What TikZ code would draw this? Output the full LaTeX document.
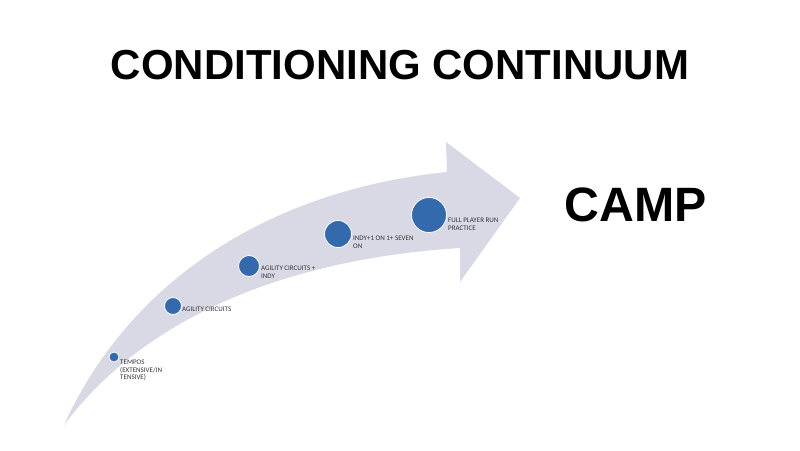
\documentclass[tikz,border=0pt]{standalone}
\usepackage{fontspec}
\setmainfont{Liberation Sans}
\newfontfamily\lblfont{Carlito}
\begin{document}
\begin{tikzpicture}[x=1pt,y=-1pt,
  dot/.style={circle,fill=blue!55!cyan!60!black!80,draw=white,line width=0.8pt,inner sep=0pt},
  lbl/.style={anchor=north west,font=\lblfont\fontsize{7}{7.5}\selectfont,text=black!80,align=left,inner sep=0pt}]
\useasboundingbox (0,0) rectangle (800,450);
\fill[white] (0,0) rectangle (800,450);
\node (title) at (400,65) {\resizebox{578pt}{!}{\textbf{CONDITIONING CONTINUUM}}};
\node (camp) at (636,205) {\resizebox{142pt}{!}{\textbf{CAMP}}};
\fill[blue!20!gray!25] (64,425) .. controls (130,280) and (270,190) .. (447,172)
  -- (446,142) -- (520,198) -- (460,282) -- (460,248)
  .. controls (300,258) and (150,310) .. cycle;
\node[dot,minimum size=10pt] (d1) at (114,357) {};
\node[dot,minimum size=17pt] (d2) at (173,306) {};
\node[dot,minimum size=21pt] (d3) at (249,266) {};
\node[dot,minimum size=27pt] (d4) at (338,234) {};
\node[dot,minimum size=35pt] (d5) at (429,215) {};
\node[lbl] (t1) at (120,360) {TEMPOS\\(EXTENSIVE/IN\\TENSIVE)};
\node[lbl] (t2) at (182,307) {AGILITY CIRCUITS};
\node[lbl] (t3) at (261,266) {AGILITY CIRCUITS +\\INDY};
\node[lbl] (t4) at (353,236) {INDY+1 ON 1+ SEVEN\\ON};
\node[lbl] (t5) at (448,218) {FULL PLAYER RUN\\PRACTICE};
\end{tikzpicture}
\end{document}
